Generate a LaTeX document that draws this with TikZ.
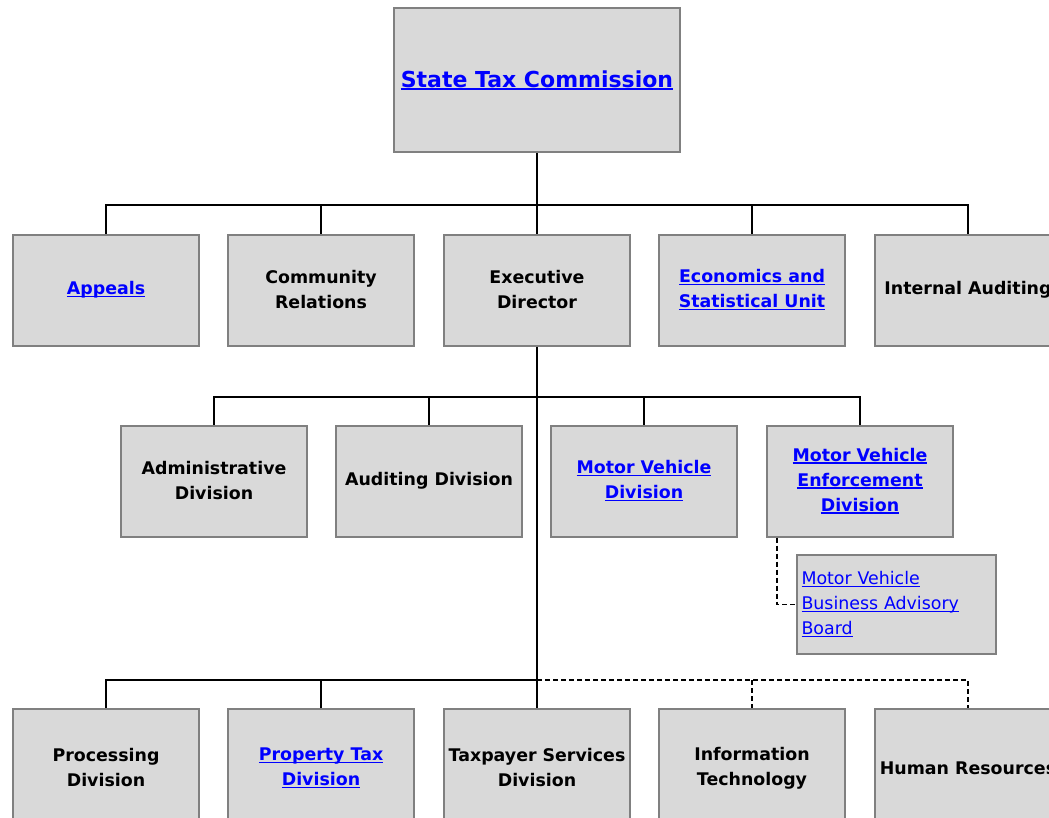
\documentclass[tikz,border=0pt]{standalone}
\usepackage{fontspec}
\setmainfont{DejaVu Sans}
\definecolor{boxfill}{RGB}{217,217,217}
\definecolor{boxline}{RGB}{128,128,128}
\definecolor{lnkblue}{RGB}{0,0,255}
\newcommand\lnk[1]{\leavevmode\setbox0\hbox{#1}\rlap{\rule[-2.4pt]{\wd0}{1.4pt}}\box0}
\tikzset{
  box/.style={draw=boxline, line width=2pt, fill=boxfill, minimum width=186pt, minimum height=111pt, inner sep=0pt, align=center, font=\bfseries\fontsize{17.4}{25}\selectfont},
  link/.style={text=lnkblue},
  conn/.style={line width=1.8pt, black},
  dconn/.style={line width=1.5pt, black, dash pattern=on 5pt off 3pt},
}
\begin{document}
\begin{tikzpicture}[x=1pt,y=-1pt]
\useasboundingbox (0,0) rectangle (1049,817);
\clip (0,0) rectangle (1049,817);
\fill[white] (0,0) rectangle (1049,817);
% top
\node[box, link, minimum width=286pt, minimum height=144pt, font=\bfseries\fontsize{22}{26}\selectfont] (top) at (537,80) {\lnk{State Tax Commission}};
% row 1
\node[box, link] (appeals) at (106,290) {\lnk{Appeals}};
\node[box] (comm) at (321,290) {Community\\Relations};
\node[box] (exec) at (537,290) {Executive\\Director};
\node[box, link] (econ) at (752,290) {\lnk{Economics and}\\\lnk{Statistical Unit}};
\node[box] (intaud) at (968,290) {Internal Auditing};
% row 2
\node[box] (admin) at (214,481) {Administrative\\Division};
\node[box] (audit) at (429,481) {Auditing Division};
\node[box, link] (mvd) at (644,481) {\lnk{Motor Vehicle}\\\lnk{Division}};
\node[box, link] (mve) at (860,481) {\lnk{Motor Vehicle}\\\lnk{Enforcement}\\\lnk{Division}};
\node[box, link, minimum width=199pt, minimum height=99pt, align=left, font=\fontsize{17.4}{25}\selectfont, text width=190pt] (mvbab) at (896.5,604.5) {\lnk{Motor Vehicle}\\\lnk{Business Advisory}\\\lnk{Board}};
% row 3
\node[box, minimum height=118pt] (proc) at (106,768) {Processing\\Division};
\node[box, link, minimum height=118pt] (prop) at (321,768) {\lnk{Property Tax}\\\lnk{Division}};
\node[box, minimum height=118pt] (tps) at (537,768) {Taxpayer Services\\Division};
\node[box, minimum height=118pt] (it) at (752,768) {Information\\Technology};
\node[box, minimum height=118pt] (hr) at (968,768) {Human Resources};
% connectors row 1
\coordinate (b1) at (537,205);
\draw[conn] (top.south) -- (b1);
\draw[conn] (appeals.north) |- (b1) -| (intaud.north);
\draw[conn] (comm.north) -- (comm.north |- b1);
\draw[conn] (exec.north) -- (exec.north |- b1);
\draw[conn] (econ.north) -- (econ.north |- b1);
% row 2
\coordinate (b2) at (537,397);
\coordinate (b3) at (537,680);
\draw[conn] (exec.south) -- (b3) -- (tps.north);
\draw[conn] (admin.north) |- (b2) -| (mve.north);
\draw[conn] (audit.north) -- (audit.north |- b2);
\draw[conn] (mvd.north) -- (mvd.north |- b2);
\draw[dconn] ([xshift=11pt]mve.south west) |- (mvbab.west);
% row 3
\draw[conn] (proc.north) |- (b3);
\draw[conn] (prop.north) -- (prop.north |- b3);
\draw[dconn] (b3) -| (hr.north);
\draw[dconn] (it.north |- b3) -- (it.north);
\end{tikzpicture}
\end{document}
